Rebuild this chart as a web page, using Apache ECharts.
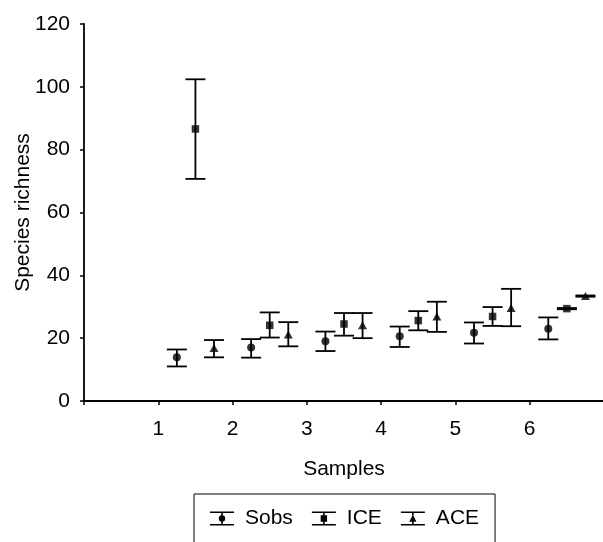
<!DOCTYPE html>
<html>
<head>
<meta charset="utf-8">
<script src="https://cdn.jsdelivr.net/npm/echarts@6/dist/echarts.min.js"></script>
<style>
html,body{margin:0;padding:0;background:#fff;}
#chart{width:603px;height:542px;}
</style>
</head>
<body>
<div id="chart"></div>
<script>
// ---- data ----
var samples = [1, 2, 3, 4, 5, 6];
var seriesNames = ['Sobs', 'ICE', 'ACE'];
var sobsMean = [13.9, 17.0, 19.0, 20.6, 21.7, 23.0];
var sobsLow  = [11.0, 13.8, 15.9, 17.2, 18.3, 19.6];
var sobsHigh = [16.4, 19.7, 22.1, 23.7, 25.0, 26.6];
var iceMean  = [86.6, 24.1, 24.5, 25.6, 26.9, 29.4];
var iceLow   = [70.7, 20.2, 20.8, 22.5, 23.9, 29.2];
var iceHigh  = [102.4, 28.2, 28.0, 28.6, 29.9, 29.6];
var aceMean  = [16.9, 21.2, 24.1, 26.9, 29.6, 33.4];
var aceLow   = [13.9, 17.4, 20.0, 22.0, 23.8, 33.2];
var aceHigh  = [19.4, 25.1, 28.0, 31.6, 35.7, 33.6];
var yTicks = [0, 20, 40, 60, 80, 100, 120];

var FONT = '"Liberation Sans", Arial, sans-serif';
var FS = 21;
var chart = echarts.init(document.getElementById('chart'), null, {renderer: 'canvas'});

// dodge offsets within each sample group (layout)
var offsets = [0.25, 0.5, 0.75];
var means = [sobsMean, iceMean, aceMean];
var lows = [sobsLow, iceLow, aceLow];
var highs = [sobsHigh, iceHigh, aceHigh];
var symbols = ['circle', 'rect', 'triangle'];
var symSizes = [8, 7.5, [9, 8]];

var capW = 20;
function errRender(params, api) {
  var x = api.value(0), lo = api.value(1), hi = api.value(2);
  var pLo = api.coord([x, lo]);
  var pHi = api.coord([x, hi]);
  var st = {stroke: '#000', lineWidth: 1.8};
  return {
    type: 'group',
    children: [
      {type: 'line', shape: {x1: pLo[0], y1: pLo[1], x2: pHi[0], y2: pHi[1]}, style: st},
      {type: 'line', shape: {x1: pLo[0] - capW/2, y1: pLo[1], x2: pLo[0] + capW/2, y2: pLo[1]}, style: st},
      {type: 'line', shape: {x1: pHi[0] - capW/2, y1: pHi[1], x2: pHi[0] + capW/2, y2: pHi[1]}, style: st}
    ]
  };
}

var series = [];
for (var s = 0; s < 3; s++) {
  var errData = [], ptData = [];
  for (var i = 0; i < samples.length; i++) {
    errData.push([samples[i] + offsets[s], lows[s][i], highs[s][i]]);
    ptData.push([samples[i] + offsets[s], means[s][i]]);
  }
  series.push({
    name: seriesNames[s], type: 'custom', renderItem: errRender,
    data: errData, itemStyle: {color: '#000'}, z: 2,
    encode: {x: 0, y: [1, 2]}
  });
  series.push({
    name: seriesNames[s], type: 'scatter', data: ptData,
    symbol: symbols[s], symbolSize: symSizes[s],
    itemStyle: {color: '#000'}, z: 3
  });
}

// legend icons: horizontal caps, vertical stem, marker
var stem = 'M0,0 H24 V1.6 H0 Z M0,12.4 H24 V14 H0 Z M11.2,1.6 H12.8 V4 H11.2 Z M11.2,10 H12.8 V12.4 H11.2 Z ';
var icons = [
  stem + 'M8.8,7 A3.2,3.2 0 1 1 15.2,7 A3.2,3.2 0 1 1 8.8,7 Z',
  stem + 'M8.8,3.8 H15.2 V10.2 H8.8 Z',
  stem + 'M12,3.3 L15.6,10.2 L8.4,10.2 Z'
];

chart.setOption({
  animation: false,
  backgroundColor: '#fff',
  textStyle: {fontFamily: FONT},
  grid: {left: 84, right: -1, top: 24, bottom: 141, containLabel: false, outerBoundsMode: 'none'},
  legend: {
    left: 194, top: 494,
    data: seriesNames.map(function (n, k) { return {name: n, icon: 'path://' + icons[k]}; }),
    itemWidth: 24, itemHeight: 14, itemGap: 19,
    borderColor: '#000', borderWidth: 1,
    padding: [14, 16, 30, 16],
    textStyle: {fontFamily: FONT, fontSize: FS, color: '#000', padding: [0, 0, 0, 6]},
    selectedMode: false
  },
  xAxis: {
    type: 'value', min: 0, max: 7, interval: 1,
    name: 'Samples', nameLocation: 'middle', nameGap: 58, nameMoveOverlap: false,
    nameTextStyle: {fontFamily: FONT, fontSize: FS, color: '#000'},
    axisLine: {lineStyle: {color: '#000', width: 1.8}},
    axisTick: {show: true, length: 4, inside: false, lineStyle: {color: '#000', width: 1.5}},
    axisLabel: {
      margin: 18, fontFamily: FONT, fontSize: FS, color: '#000',
      formatter: function (v) { return samples.indexOf(v) >= 0 ? String(v) : ''; }
    },
    splitLine: {show: false}
  },
  yAxis: {
    type: 'value', min: yTicks[0], max: yTicks[yTicks.length - 1], interval: 20,
    name: 'Species richness', nameLocation: 'middle', nameGap: 50, nameMoveOverlap: false,
    nameTextStyle: {fontFamily: FONT, fontSize: FS, color: '#000'},
    axisLine: {show: true, lineStyle: {color: '#000', width: 1.8}},
    axisTick: {show: true, length: 4, inside: false, lineStyle: {color: '#000', width: 1.5}},
    axisLabel: {margin: 14, fontFamily: FONT, fontSize: FS, color: '#000'},
    splitLine: {show: false}
  },
  series: series
});
</script>
</body>
</html>
